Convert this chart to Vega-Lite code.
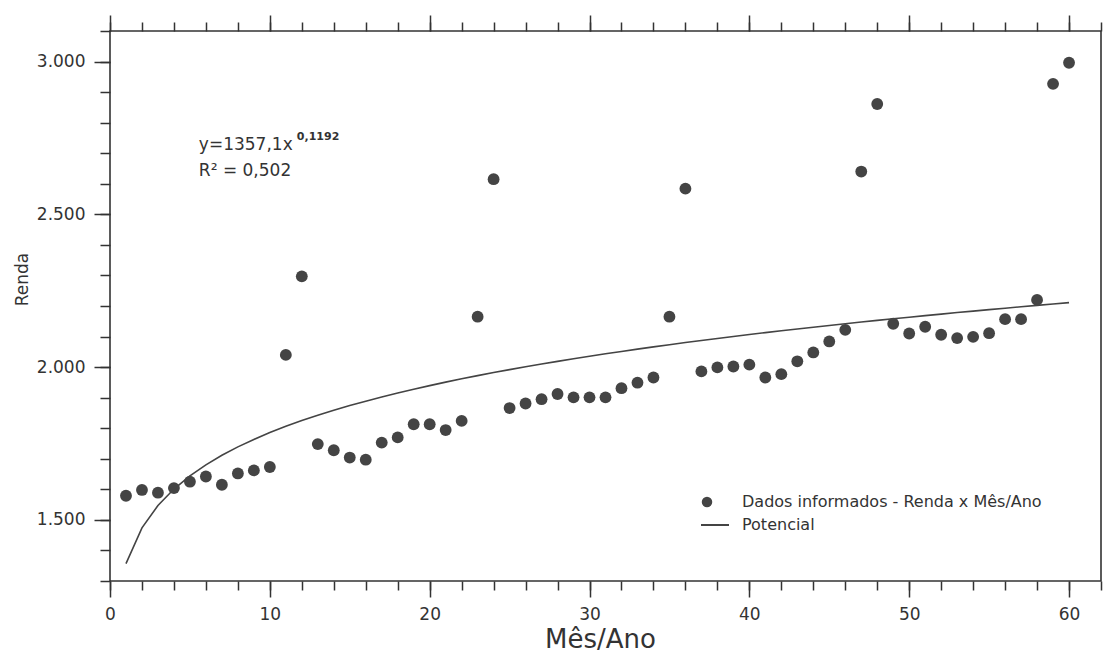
{
  "$schema": "https://vega.github.io/schema/vega-lite/v6.json",
  "width": 991,
  "height": 550,
  "autosize": {"type": "none"},
  "padding": {"left": 110, "top": 31, "right": 2, "bottom": 71},
  "background": "white",
  "config": {
    "view": {"stroke": "#333", "strokeWidth": 1.6},
    "axis": {
      "labelFont": "DejaVu Sans",
      "labelFontSize": 17,
      "labelColor": "#333",
      "tickColor": "#333",
      "tickWidth": 1.5,
      "domain": false,
      "grid": false,
      "titleFont": "DejaVu Sans",
      "titleColor": "#333",
      "titleFontWeight": "normal",
      "labelOverlap": false,
      "labelFlush": false
    },
    "legend": {
      "labelFont": "DejaVu Sans",
      "labelFontSize": 16,
      "labelColor": "#333",
      "labelLimit": 500,
      "padding": 0,
      "title": null
    }
  },
  "datasets": {
    "dados": [
      {"mes": 1, "renda": 1579}, {"mes": 2, "renda": 1598}, {"mes": 3, "renda": 1589}, {"mes": 4, "renda": 1604},
      {"mes": 5, "renda": 1625}, {"mes": 6, "renda": 1642}, {"mes": 7, "renda": 1615}, {"mes": 8, "renda": 1652},
      {"mes": 9, "renda": 1662}, {"mes": 10, "renda": 1673}, {"mes": 11, "renda": 2040}, {"mes": 12, "renda": 2297},
      {"mes": 13, "renda": 1748}, {"mes": 14, "renda": 1728}, {"mes": 15, "renda": 1704}, {"mes": 16, "renda": 1697},
      {"mes": 17, "renda": 1753}, {"mes": 18, "renda": 1770}, {"mes": 19, "renda": 1813}, {"mes": 20, "renda": 1813},
      {"mes": 21, "renda": 1794}, {"mes": 22, "renda": 1824}, {"mes": 23, "renda": 2165}, {"mes": 24, "renda": 2615},
      {"mes": 25, "renda": 1866}, {"mes": 26, "renda": 1881}, {"mes": 27, "renda": 1895}, {"mes": 28, "renda": 1912},
      {"mes": 29, "renda": 1901}, {"mes": 30, "renda": 1901}, {"mes": 31, "renda": 1901}, {"mes": 32, "renda": 1931},
      {"mes": 33, "renda": 1949}, {"mes": 34, "renda": 1966}, {"mes": 35, "renda": 2165}, {"mes": 36, "renda": 2584},
      {"mes": 37, "renda": 1986}, {"mes": 38, "renda": 1999}, {"mes": 39, "renda": 2002}, {"mes": 40, "renda": 2008},
      {"mes": 41, "renda": 1966}, {"mes": 42, "renda": 1977}, {"mes": 43, "renda": 2019}, {"mes": 44, "renda": 2048},
      {"mes": 45, "renda": 2084}, {"mes": 46, "renda": 2122}, {"mes": 47, "renda": 2640}, {"mes": 48, "renda": 2861},
      {"mes": 49, "renda": 2142}, {"mes": 50, "renda": 2110}, {"mes": 51, "renda": 2132}, {"mes": 52, "renda": 2106},
      {"mes": 53, "renda": 2095}, {"mes": 54, "renda": 2099}, {"mes": 55, "renda": 2111}, {"mes": 56, "renda": 2157},
      {"mes": 57, "renda": 2157}, {"mes": 58, "renda": 2220}, {"mes": 59, "renda": 2927}, {"mes": 60, "renda": 2996}
    ],
    "potencial": [
      {"mes": 1, "valor": 1357.1}, {"mes": 2, "valor": 1474.0}, {"mes": 3, "valor": 1547.0}, {"mes": 4, "valor": 1601.0},
      {"mes": 5, "valor": 1644.1}, {"mes": 6, "valor": 1680.2}, {"mes": 7, "valor": 1711.4}, {"mes": 8, "valor": 1738.9},
      {"mes": 9, "valor": 1763.4}, {"mes": 10, "valor": 1785.7}, {"mes": 11, "valor": 1806.1}, {"mes": 12, "valor": 1825.0},
      {"mes": 13, "valor": 1842.5}, {"mes": 14, "valor": 1858.8}, {"mes": 15, "valor": 1874.2}, {"mes": 16, "valor": 1888.6},
      {"mes": 17, "valor": 1902.3}, {"mes": 18, "valor": 1915.4}, {"mes": 19, "valor": 1927.7}, {"mes": 20, "valor": 1939.5},
      {"mes": 21, "valor": 1950.8}, {"mes": 22, "valor": 1961.7}, {"mes": 23, "valor": 1972.1}, {"mes": 24, "valor": 1982.2},
      {"mes": 25, "valor": 1991.8}, {"mes": 26, "valor": 2001.2}, {"mes": 27, "valor": 2010.2}, {"mes": 28, "valor": 2018.9},
      {"mes": 29, "valor": 2027.4}, {"mes": 30, "valor": 2035.6}, {"mes": 31, "valor": 2043.6}, {"mes": 32, "valor": 2051.3},
      {"mes": 33, "valor": 2058.8}, {"mes": 34, "valor": 2066.2}, {"mes": 35, "valor": 2073.3}, {"mes": 36, "valor": 2080.3},
      {"mes": 37, "valor": 2087.1}, {"mes": 38, "valor": 2093.8}, {"mes": 39, "valor": 2100.3}, {"mes": 40, "valor": 2106.6},
      {"mes": 41, "valor": 2112.8}, {"mes": 42, "valor": 2118.9}, {"mes": 43, "valor": 2124.8}, {"mes": 44, "valor": 2130.7},
      {"mes": 45, "valor": 2136.4}, {"mes": 46, "valor": 2142.0}, {"mes": 47, "valor": 2147.5}, {"mes": 48, "valor": 2152.9},
      {"mes": 49, "valor": 2158.2}, {"mes": 50, "valor": 2163.4}, {"mes": 51, "valor": 2168.5}, {"mes": 52, "valor": 2173.5},
      {"mes": 53, "valor": 2178.5}, {"mes": 54, "valor": 2183.3}, {"mes": 55, "valor": 2188.1}, {"mes": 56, "valor": 2192.8},
      {"mes": 57, "valor": 2197.5}, {"mes": 58, "valor": 2202.0}, {"mes": 59, "valor": 2206.5}, {"mes": 60, "valor": 2210.9}
    ],
    "anotacao": [
      {"x": 5.56, "y": 2712, "texto": "y=1357,1x"},
      {"x": 5.56, "y": 2627, "texto": "R² = 0,502"}
    ],
    "expoente": [
      {"x": 11.69, "y": 2742, "texto": "0,1192"}
    ]
  },
  "resolve": {
    "axis": {"x": "independent", "y": "independent"},
    "scale": {"color": "independent"}
  },
  "layer": [
    {
      "data": {"name": "potencial"},
      "mark": {"type": "line", "strokeWidth": 1.6, "interpolate": "linear"},
      "encoding": {
        "x": {
          "field": "mes", "type": "quantitative",
          "scale": {"domain": [0, 62], "nice": false, "zero": false},
          "axis": {
            "orient": "top", "title": null, "labels": false,
            "values": [0, 10, 20, 30, 40, 50, 60],
            "tickSize": 16
          }
        },
        "y": {
          "field": "valor", "type": "quantitative",
          "scale": {"domain": [1300, 3100], "nice": false, "zero": false},
          "axis": {
            "orient": "left", "title": null, "labels": false,
            "values": [1300,1400,1500,1600,1700,1800,1900,2000,2100,2200,2300,2400,2500,2600,2700,2800,2900,3000,3100],
            "tickSize": 10
          }
        },
        "color": {
          "datum": "Potencial",
          "scale": {"range": ["#444"]},
          "legend": {
            "orient": "none",
            "legendX": 590,
            "legendY": 479,
            "symbolType": "stroke",
            "symbolSize": 784,
            "symbolStrokeWidth": 2,
            "labelOffset": 12
          }
        }
      }
    },
    {
      "data": {"name": "dados"},
      "mark": {"type": "point", "filled": true, "opacity": 1, "size": 140},
      "encoding": {
        "x": {
          "field": "mes", "type": "quantitative",
          "axis": {
            "orient": "bottom", "title": "Mês/Ano", "titleFontSize": 26,
            "values": [0, 10, 20, 30, 40, 50, 60],
            "tickSize": 16, "labelPadding": 9,
            "titleBaseline": "alphabetic", "titleY": 66, "titleX": 490
          }
        },
        "y": {
          "field": "renda", "type": "quantitative",
          "axis": {
            "orient": "left", "title": "Renda", "titleFontSize": 17,
            "values": [1500, 2000, 2500, 3000],
            "labelExpr": "replace(format(datum.value, ','), ',', '.')",
            "tickSize": 16, "labelPadding": 9,
            "titleAngle": -90, "titleX": -88, "titleY": 248, "titleBaseline": "middle", "titleAlign": "center"
          }
        },
        "color": {
          "datum": "Dados informados - Renda x Mês/Ano",
          "scale": {"range": ["#444"]},
          "legend": {
            "orient": "none",
            "legendX": 589,
            "legendY": 463,
            "symbolType": "circle",
            "symbolSize": 110,
            "labelOffset": 27
          }
        }
      }
    },
    {
      "data": {"name": "anotacao"},
      "mark": {"type": "text", "font": "DejaVu Sans", "fontSize": 17, "color": "#333", "align": "left", "baseline": "alphabetic"},
      "encoding": {
        "x": {
          "field": "x", "type": "quantitative",
          "axis": {
            "orient": "bottom", "title": null, "labels": false,
            "values": [0,2,4,6,8,10,12,14,16,18,20,22,24,26,28,30,32,34,36,38,40,42,44,46,48,50,52,54,56,58,60,62],
            "tickSize": 9
          }
        },
        "y": {"field": "y", "type": "quantitative", "axis": null},
        "text": {"field": "texto"}
      }
    },
    {
      "data": {"name": "expoente"},
      "mark": {"type": "text", "font": "DejaVu Sans", "fontSize": 11, "fontWeight": "bold", "color": "#333", "align": "left", "baseline": "alphabetic"},
      "encoding": {
        "x": {
          "field": "x", "type": "quantitative",
          "axis": {
            "orient": "top", "title": null, "labels": false,
            "values": [0,2,4,6,8,10,12,14,16,18,20,22,24,26,28,30,32,34,36,38,40,42,44,46,48,50,52,54,56,58,60,62],
            "tickSize": 9
          }
        },
        "y": {"field": "y", "type": "quantitative", "axis": null},
        "text": {"field": "texto"}
      }
    }
  ]
}
